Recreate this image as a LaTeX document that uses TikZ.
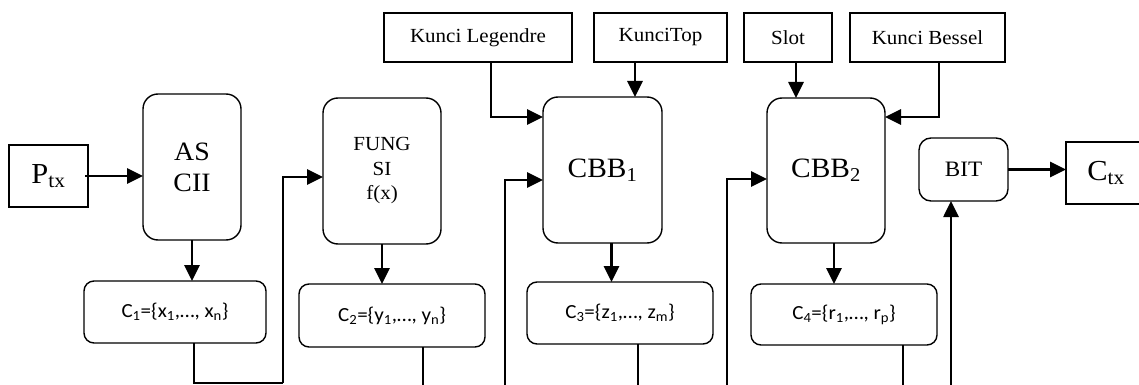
\documentclass[tikz,border=0pt]{standalone}
\usepackage{fontspec}
\setmainfont[FakeStretch=1.05]{Liberation Serif}
\newfontfamily\setfont[FakeStretch=1.05]{Carlito}
\usetikzlibrary{arrows.meta}
\tikzset{
  base/.style={draw=black, line width=1.4pt, inner sep=0pt, outer sep=0pt, align=center},
  plainbox/.style={base},
  procbox/.style={base, rounded corners=15pt},
  setbox/.style={base, rounded corners=10pt, font=\setfont\fontsize{20}{24}\selectfont},
  keybox/.style={base, font=\fontsize{20}{24}\selectfont},
  arr/.style={line width=2.7pt, -{Triangle[length=16pt,width=15pt]}},
  feed/.style={line width=1.6pt},
}
\begin{document}
\begin{tikzpicture}[x=1pt, y=-1pt]
\useasboundingbox (0,0) rectangle (1139,385);
\clip (0,0) rectangle (1139,385);
\fill[white] (0,0) rectangle (1139,385);

% input and output blocks
\node[plainbox, minimum width=79pt, minimum height=62pt, font=\fontsize{29}{34}\selectfont] (ptx) at (48.5,176) {P\textsubscript{tx}};
\node[plainbox, minimum width=80pt, minimum height=62pt, font=\fontsize{29}{34}\selectfont] (ctx) at (1106,173) {C\textsubscript{tx}};

% processing stages
\node[procbox, minimum width=98pt, minimum height=146pt, font=\fontsize{26.5}{31}\selectfont] (ascii) at (192,167) {AS\\CII};
\node[procbox, minimum width=118pt, minimum height=146pt, font=\fontsize{20}{24.5}\selectfont] (fungsi) at (382,171) {FUNG\\SI\\f(x)};
\node[procbox, minimum width=119pt, minimum height=146pt, font=\fontsize{28}{32}\selectfont] (cbb1) at (602.5,170) {CBB\textsubscript{1}};
\node[procbox, minimum width=118pt, minimum height=145pt, font=\fontsize{28}{32}\selectfont] (cbb2) at (826,170.5) {CBB\textsubscript{2}};
\node[procbox, rounded corners=12pt, minimum width=89pt, minimum height=63pt, font=\fontsize{22}{26}\selectfont] (bit) at (963.5,169.5) {BIT};

% intermediate sets
\node[setbox, minimum width=182pt, minimum height=62pt] (c1) at (175,312) {C\textsubscript{1}=\{x\textsubscript{1},…, x\textsubscript{n}\}};
\node[setbox, minimum width=186pt, minimum height=63pt] (c2) at (392,315.5) {C\textsubscript{2}=\{y\textsubscript{1},…, y\textsubscript{n}\}};
\node[setbox, minimum width=186pt, minimum height=62pt] (c3) at (620,313) {C\textsubscript{3}=\{z\textsubscript{1},…, z\textsubscript{m}\}};
\node[setbox, minimum width=186pt, minimum height=61pt] (c4) at (844,314.5) {C\textsubscript{4}=\{r\textsubscript{1},…, r\textsubscript{p}\}};

% keys
\node[keybox, minimum width=188pt, minimum height=49pt] (kl) at (478,37.5) {Kunci Legendre};
\node[keybox, minimum width=133pt, minimum height=49pt] (kt) at (660.5,37.5) {KunciTop};
\node[keybox, minimum width=88pt, minimum height=49pt] (slot) at (788,37.5) {Slot};
\node[keybox, minimum width=155pt, minimum height=49pt] (kb) at (927.5,37.5) {Kunci Bessel};

% bend points of the feedback lines
\coordinate (d1) at (194,383);   \coordinate (u1) at (283,383);
\coordinate (d2) at (423,400);   \coordinate (u2) at (505,400);
\coordinate (d3) at (638,400);   \coordinate (u3) at (727,400);
\coordinate (d4) at (903,400);   \coordinate (u4) at (951,400);
\coordinate (r1) at (283,177);
\coordinate (r2) at (505,180);
\coordinate (r3) at (727,179);
\coordinate (kl1) at (491,117);
\coordinate (kb1) at (939,117);

% main flow
\draw[arr] ([xshift=-3pt]ptx.east) -- (ptx.east -| ascii.west);
\draw[arr] (ascii.south) -- (ascii.south |- c1.north);
\draw[arr] (fungsi.south) -- (fungsi.south |- c2.north);
\draw[arr] ([xshift=9pt]cbb1.south) -- ([xshift=9pt]cbb1.south |- c3.north);
\draw[arr] ([xshift=8pt]cbb2.south) -- ([xshift=8pt]cbb2.south |- c4.north);
\draw[arr] (bit.east) -- (bit.east -| ctx.west);

% outputs of each set fed to the next stage
\draw[feed] (c1.south -| d1) -- (d1) -- (u1);
\draw[arr] (u1) -- (r1) -- (r1 -| fungsi.west);
\draw[feed] (c2.south -| d2) -- (d2) -- (u2);
\draw[arr] (u2) -- (r2) -- (r2 -| cbb1.west);
\draw[feed] (c3.south -| d3) -- (d3) -- (u3);
\draw[arr] (u3) -- (r3) -- (r3 -| cbb2.west);
\draw[feed] (c4.south -| d4) -- (d4) -- (u4);
\draw[arr] (u4) -- (u4 |- bit.south);

% keys into the two CBB stages
\draw[arr] (kl.south -| kl1) -- (kl1) -- (kl1 -| cbb1.west);
\draw[arr] (kt.south -| 635,0) -- (cbb1.north -| 635,0);
\draw[arr] (slot.south -| 796,0) -- (cbb2.north -| 796,0);
\draw[arr] (kb.south -| kb1) -- (kb1) -- (kb1 -| cbb2.east);
\end{tikzpicture}
\end{document}
